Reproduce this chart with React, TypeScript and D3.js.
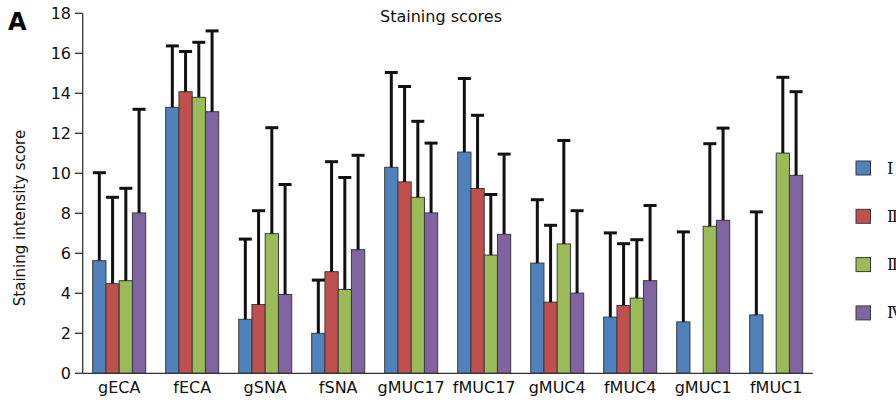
import React from 'react';
import * as d3 from 'd3';

// categories + series (mean, upper error bar end)
const categories = ['gECA', 'fECA', 'gSNA', 'fSNA', 'gMUC17', 'fMUC17', 'gMUC4', 'fMUC4', 'gMUC1', 'fMUC1'];
const seriesNames = ['Ⅰ', 'Ⅱ', 'Ⅲ', 'Ⅳ'];
const seriesColors = ['#4F81BD', '#C0504D', '#9BBB59', '#8064A2'];

const meanI = [5.63, 13.3, 2.7, 2.0, 10.3, 11.06, 5.51, 2.81, 2.57, 2.92];
const meanII = [4.48, 14.08, 3.44, 5.08, 9.57, 9.24, 3.56, 3.39, null, null];
const meanIII = [4.63, 13.8, 6.98, 4.19, 8.8, 5.91, 6.47, 3.76, 7.35, 11.01];
const meanIV = [8.02, 13.08, 3.94, 6.18, 8.02, 6.95, 4.01, 4.63, 7.65, 9.9];

const topI = [10.03, 16.37, 6.71, 4.66, 15.04, 14.74, 8.68, 7.02, 7.07, 8.07];
const topII = [8.8, 16.09, 8.13, 10.58, 14.34, 12.9, 7.4, 6.48, null, null];
const topIII = [9.25, 16.55, 12.28, 9.79, 12.6, 8.94, 11.64, 6.68, 11.48, 14.8];
const topIV = [13.2, 17.12, 9.44, 10.9, 11.51, 10.96, 8.13, 8.39, 12.26, 14.08];

const yTicks = [0, 2, 4, 6, 8, 10, 12, 14, 16, 18];

const means = [meanI, meanII, meanIII, meanIV];
const tops = [topI, topII, topIII, topIV];

const W = 896, H = 407;
const font = '"DejaVu Sans", Verdana, Tahoma, sans-serif';

export default function App() {
  const x = d3.scaleBand().domain(categories).range([82.7, 812.7]).paddingInner(0.274).paddingOuter(0.137);
  const xs = d3.scaleBand().domain(seriesNames).range([0, x.bandwidth()]);
  const y = d3.scaleLinear().domain([0, 18]).range([373.3, 13.3]);

  const bars: any[] = [];
  const errs: any[] = [];
  categories.forEach((c, i) => {
    seriesNames.forEach((s, k) => {
      const v = means[k][i];
      if (v == null) return;
      const bx = x(c)! + xs(s)!;
      const bw = xs.bandwidth();
      bars.push(
        <rect key={c + s} x={bx} y={y(v)} width={bw} height={y(0) - y(v)}
          fill={seriesColors[k]} stroke="#3a3a3a" strokeWidth={1} />
      );
      const t = tops[k][i];
      if (t == null) return;
      const cx = bx + bw / 2;
      errs.push(
        <g key={'e' + c + s} stroke="#111" strokeWidth={3}>
          <line x1={cx} x2={cx} y1={y(v)} y2={y(t)} />
          <line x1={cx - 6.5} x2={cx + 6.5} y1={y(t)} y2={y(t)} />
        </g>
      );
    });
  });

  return (
    <svg width={W} height={H} style={{ position: 'absolute', left: 0, top: 0, background: '#fff' }}>
      <text x={8} y={29.5} fontFamily='"DejaVu Sans", Verdana, sans-serif' fontWeight="bold" fontSize={24}>A</text>
      <text x={441} y={22} textAnchor="middle" fontFamily={font} fontSize={16} fill="#111">Staining scores</text>
      <text transform="translate(20,218) rotate(-90)" textAnchor="middle" dominantBaseline="central"
        fontFamily={font} fontSize={15} fill="#111">Staining intensity score</text>

      {/* y axis */}
      <line x1={82.7} x2={82.7} y1={y(18)} y2={y(0)} stroke="#333" strokeWidth={1.3} />
      {yTicks.map(t => (
        <g key={t}>
          <line x1={75} x2={82.7} y1={y(t)} y2={y(t)} stroke="#333" strokeWidth={1.3} />
          <text x={71} y={y(t)} textAnchor="end" dominantBaseline="central" fontFamily={font} fontSize={16} fill="#111">{t}</text>
        </g>
      ))}

      {bars}
      {errs}

      {/* x axis */}
      <line x1={82.7} x2={812.7} y1={y(0)} y2={y(0)} stroke="#333" strokeWidth={1.3} />
      {categories.map(c => (
        <text key={c} x={x(c)! + x.bandwidth() / 2} y={393} textAnchor="middle" fontFamily={font} fontSize={16} fill="#111">{c}</text>
      ))}

      {/* legend */}
      {seriesNames.map((s, k) => (
        <g key={s} transform={`translate(856,${161 + k * 48.3})`}>
          <rect width={14.5} height={14} fill={seriesColors[k]} stroke="#3a3a3a" strokeWidth={1} />
          <text x={31} y={7} dominantBaseline="central" fontFamily='"DejaVu Serif", "Liberation Serif", serif' fontSize={16} fill="#111">{s}</text>
        </g>
      ))}
    </svg>
  );
}
